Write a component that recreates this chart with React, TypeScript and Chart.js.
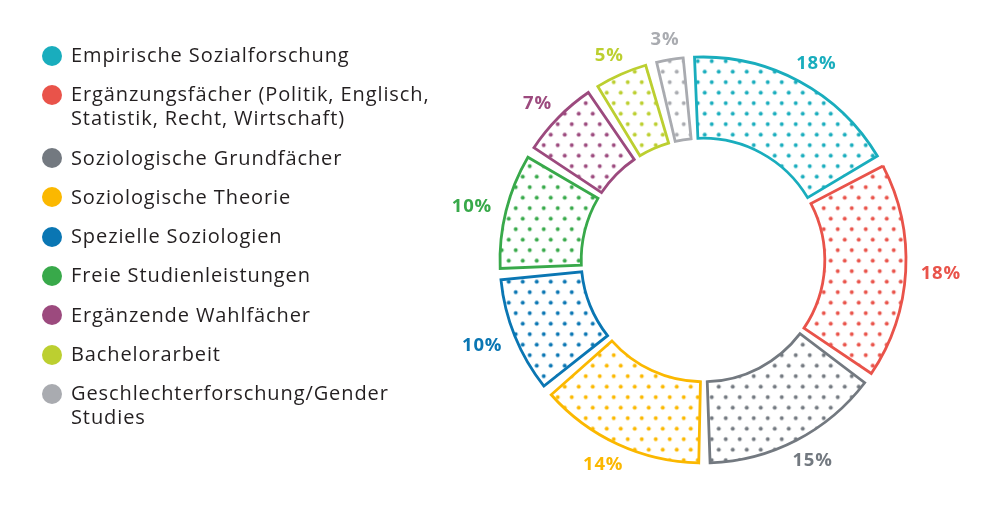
import React, { useEffect, useRef } from "react";
import { Chart, registerables } from "chart.js";

Chart.register(...registerables);

const categories = [
  "Empirische Sozialforschung",
  "Ergänzungsfächer (Politik, Englisch, Statistik, Recht, Wirtschaft)",
  "Soziologische Grundfächer",
  "Soziologische Theorie",
  "Spezielle Soziologien",
  "Freie Studienleistungen",
  "Ergänzende Wahlfächer",
  "Bachelorarbeit",
  "Geschlechterforschung/Gender Studies",
];

const legendLines = [
  ["Empirische Sozialforschung"],
  ["Ergänzungsfächer (Politik, Englisch,", "Statistik, Recht, Wirtschaft)"],
  ["Soziologische Grundfächer"],
  ["Soziologische Theorie"],
  ["Spezielle Soziologien"],
  ["Freie Studienleistungen"],
  ["Ergänzende Wahlfächer"],
  ["Bachelorarbeit"],
  ["Geschlechterforschung/Gender", "Studies"],
];

const shares = [18, 18, 15, 14, 10, 10, 7, 5, 3];

const colors = [
  "#19adbd",
  "#e9534a",
  "#737980",
  "#fbb800",
  "#0a76b3",
  "#38a94a",
  "#9c4a7e",
  "#bccf30",
  "#a9abb0",
];

const FONT = "'Open Sans', 'DejaVu Sans', sans-serif";

function makePattern(color: string): CanvasPattern | string {
  const c = document.createElement("canvas");
  c.width = 14;
  c.height = 21;
  const g = c.getContext("2d");
  if (!g) return color;
  g.fillStyle = color;
  const dots = [
    [3.5, 5.25],
    [10.5, 15.75],
  ];
  for (const [x, y] of dots) {
    g.beginPath();
    g.arc(x, y, 2, 0, Math.PI * 2);
    g.fill();
  }
  const p = g.createPattern(c, "repeat");
  if (!p) return color;
  try {
    p.setTransform(new DOMMatrix().translate(1.2, 3.4));
  } catch (e) {}
  return p;
}

const GAP = (3.2 * Math.PI) / 180 / 2;

const gapPlugin = {
  id: "angularGap",
  afterDatasetUpdate(chart: any, args: any) {
    const meta = chart.getDatasetMeta(args.index);
    meta.data.forEach((arc: any) => {
      arc.startAngle += GAP;
      arc.endAngle -= GAP;
      arc.circumference = Math.max(arc.circumference - 2 * GAP, 0);
    });
  },
};

const labelPlugin = {
  id: "pctLabels",
  afterDatasetsDraw(chart: any) {
    const ctx = chart.ctx;
    const meta = chart.getDatasetMeta(0);
    const size = 18.5;
    const capH = size * 0.714;
    ctx.save();
    ctx.font = `700 ${size}px ${FONT}`;
    try {
      (ctx as any).letterSpacing = "0.8px";
    } catch (e) {}
    ctx.textAlign = "center";
    ctx.textBaseline = "alphabetic";
    meta.data.forEach((arc: any, i: number) => {
      const { x, y, startAngle, endAngle, outerRadius } = arc.getProps(
        ["x", "y", "startAngle", "endAngle", "outerRadius"],
        true
      );
      const mid = (startAngle + endAngle) / 2;
      const text = `${shares[i]}%`;
      const w = ctx.measureText(text).width;
      const r = outerRadius + 15;
      const cx = x + Math.cos(mid) * r + (Math.cos(mid) * w) / 2;
      const cy = y + Math.sin(mid) * r + (Math.sin(mid) * capH) / 2;
      ctx.fillStyle = colors[i];
      ctx.fillText(text, cx, cy + capH / 2);
    });
    ctx.restore();
  },
};

export default function App() {
  const canvasRef = useRef<HTMLCanvasElement | null>(null);

  useEffect(() => {
    document.body.style.margin = "0";
    const canvas = canvasRef.current;
    if (!canvas) return;
    const chart = new Chart(canvas, {
      type: "doughnut",
      data: {
        labels: categories,
        datasets: [
          {
            data: shares,
            backgroundColor: colors.map((c) => makePattern(c)) as any,
            borderColor: colors,
            borderWidth: 2.8,
            borderJoinStyle: "miter",
            borderAlign: "center",
          } as any,
        ],
      },
      options: {
        responsive: false,
        animation: false,
        rotation: -4,
        radius: 203,
        cutout: "60%",
        layout: { padding: { left: 499, right: 93, top: 56, bottom: 60 } },
        plugins: {
          legend: { display: false },
          tooltip: { enabled: false },
        },
        events: [],
      } as any,
      plugins: [gapPlugin, labelPlugin],
    });
    return () => chart.destroy();
  }, []);

  return (
    <div style={{ position: "relative", width: 1000, height: 524, background: "#fff" }}>
      <canvas
        ref={canvasRef}
        width={1000}
        height={524}
        style={{ position: "absolute", left: 0, top: 0, width: 1000, height: 524 }}
      />
      <div
        style={{
          position: "absolute",
          left: 42,
          top: 43,
          fontFamily: FONT,
          fontSize: 20,
          lineHeight: "24px",
          color: "#231f20",
          letterSpacing: "0.9px",
        }}
      >
        {legendLines.map((lines, i) => (
          <div
            key={i}
            style={{ display: "flex", alignItems: "flex-start", marginBottom: 15.3 }}
          >
            <span
              style={{
                display: "inline-block",
                width: 20,
                height: 20,
                borderRadius: "50%",
                background: colors[i],
                marginTop: 2.5,
                marginRight: 9,
                flex: "none",
              }}
            />
            <div>
              {lines.map((l, j) => (
                <div key={j} style={{ whiteSpace: "nowrap" }}>
                  {l}
                </div>
              ))}
            </div>
          </div>
        ))}
      </div>
    </div>
  );
}
